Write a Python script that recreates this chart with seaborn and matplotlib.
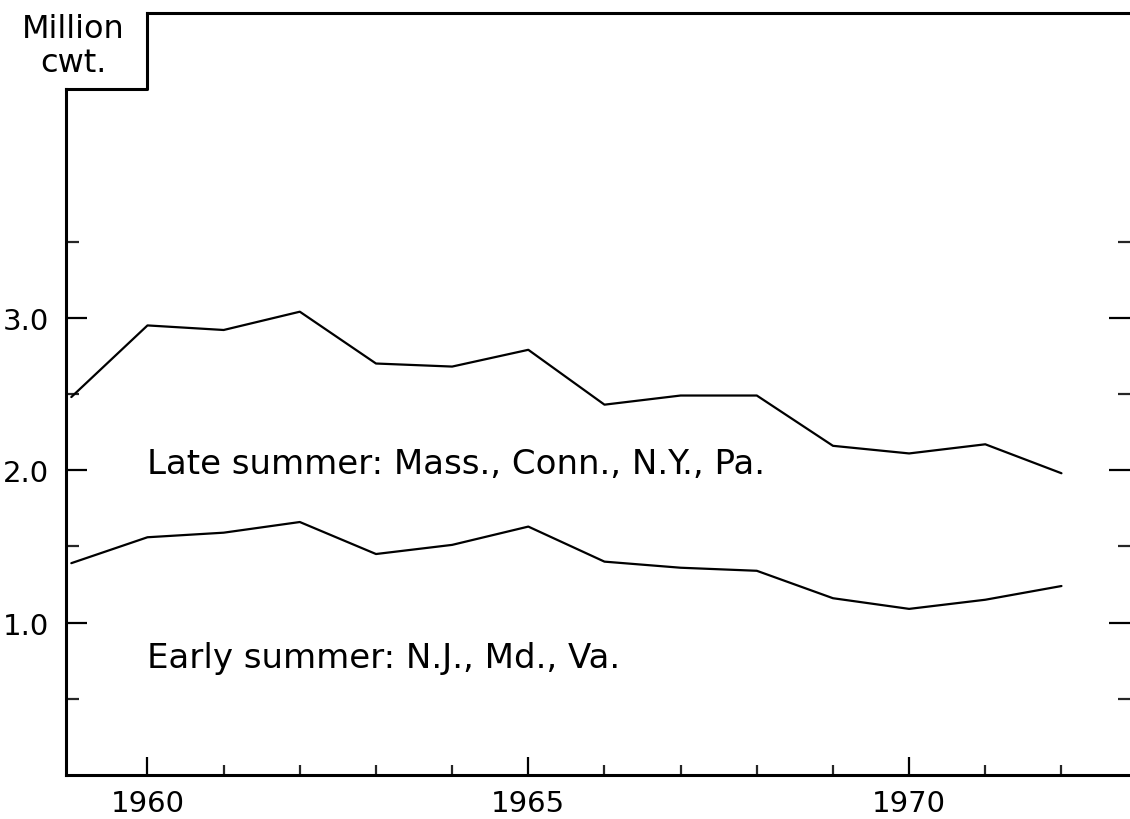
import matplotlib
matplotlib.use("Agg")
import matplotlib.pyplot as plt
import seaborn as sns
import pandas as pd

years = [1959, 1960, 1961, 1962, 1963, 1964, 1965, 1966, 1967, 1968, 1969, 1970, 1971, 1972]
late_summer = [2.48, 2.95, 2.92, 3.04, 2.70, 2.68, 2.79, 2.43, 2.49, 2.49, 2.16, 2.11, 2.17, 1.98]
early_summer = [1.39, 1.56, 1.59, 1.66, 1.45, 1.51, 1.63, 1.40, 1.36, 1.34, 1.16, 1.09, 1.15, 1.24]
x_major = [1960, 1965, 1970]
x_minor = [1961, 1962, 1963, 1964, 1966, 1967, 1968, 1969, 1971, 1972]
y_major = [1.0, 2.0, 3.0]
y_minor = [0.5, 1.5, 2.5, 3.5]
late_label = "Late summer: Mass., Conn., N.Y., Pa."
early_label = "Early summer: N.J., Md., Va."
unit_line1 = "Million"
unit_line2 = "cwt."

sns.set_theme(style="ticks")
plt.rcParams["font.family"] = ["DejaVu Sans"]

df = pd.DataFrame({"year": years * 2,
                   "value": late_summer + early_summer,
                   "series": ["late"] * len(years) + ["early"] * len(years)})

fig = plt.figure(figsize=(11.3, 8.2), dpi=100)
fig.patch.set_facecolor("white")
ax = fig.add_axes([66 / 1130, 44 / 820, 1064 / 1130, 762 / 820])
ax.set_facecolor("white")

sns.lineplot(data=df, x="year", y="value", units="series", estimator=None,
             color="black", linewidth=1.6, ax=ax, legend=False)

xmin, xmax = 1958.93, 1972.9
ax.set_xlim(xmin, xmax)
ax.set_ylim(0, 5.0)

ax.set_xticks(x_major)
ax.set_xticklabels([str(v) for v in x_major], fontsize=21)
ax.set_xticks(x_minor, minor=True)
ax.set_yticks(y_major)
ax.set_yticklabels([f"{v:.1f}" for v in y_major], fontsize=21)
ax.set_yticks(y_minor, minor=True)

ax.tick_params(axis="x", which="major", direction="in", length=13, width=1.6,
               pad=10, colors="black")
ax.tick_params(axis="x", which="minor", direction="in", length=7, width=1.6)
ax.tick_params(axis="y", which="major", direction="in", length=15, width=1.6,
               pad=12, left=True, right=True, colors="black")
ax.tick_params(axis="y", which="minor", direction="in", length=9, width=1.6,
               left=True, right=True)
ax.set_xlabel("")
ax.set_ylabel("")

for side in ["left", "bottom", "top"]:
    ax.spines[side].set_color("black")
    ax.spines[side].set_linewidth(2.2)
ax.spines["right"].set_visible(False)
ax.spines["left"].set_bounds(0, 4.5)
ax.spines["top"].set_bounds(1960, xmax)
ax.plot([xmin, 1960, 1960], [4.5, 4.5, 5.0], color="black", linewidth=2.2,
        clip_on=False, solid_capstyle="projecting")

ax.text(1960, 1.98, late_label, fontsize=24.5, color="black", va="baseline", ha="left")
ax.text(1960, 0.71, early_label, fontsize=24.5, color="black", va="baseline", ha="left")

fig.text(73 / 1130, 1 - 38 / 820, unit_line1, fontsize=23, color="black",
         ha="center", va="baseline")
fig.text(73 / 1130, 1 - 72 / 820, unit_line2, fontsize=23, color="black",
         ha="center", va="baseline")

fig.savefig("out.png", dpi=100, facecolor="white")
